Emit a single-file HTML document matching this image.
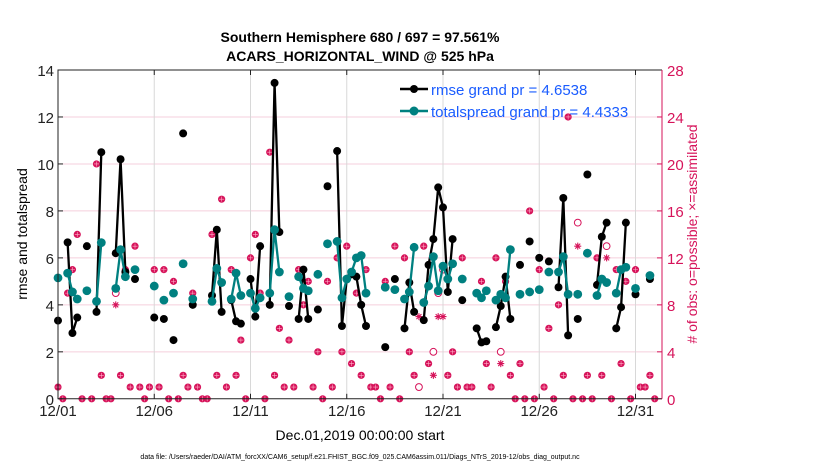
<!DOCTYPE html>
<html><head><meta charset="utf-8"><style>
body{margin:0;background:#fff;}
svg{display:block;font-family:"Liberation Sans",sans-serif;}
</style></head><body>
<svg id="chart" width="830" height="470" xmlns="http://www.w3.org/2000/svg">
<text x="360" y="42" text-anchor="middle" font-size="14" font-weight="bold">Southern Hemisphere 680 / 697 = 97.561%</text>
<text x="360" y="61" text-anchor="middle" font-size="14" font-weight="bold">ACARS_HORIZONTAL_WIND @ 525 hPa</text>
<g id="grid"></g>
<g id="obs"></g>
<g id="series"></g>
<g id="axes"></g>
<text transform="translate(27,234) rotate(-90)" text-anchor="middle" font-size="14">rmse and totalspread</text>
<text transform="translate(697,234) rotate(-90)" text-anchor="middle" font-size="14" fill="#d6135a"># of obs: o=possible; ×=assimilated</text>
<text x="360" y="440" text-anchor="middle" font-size="14">Dec.01,2019 00:00:00 start</text>
<text x="360" y="459" text-anchor="middle" font-size="7">data file: /Users/raeder/DAI/ATM_forcXX/CAM6_setup/f.e21.FHIST_BGC.f09_025.CAM6assim.011/Diags_NTrS_2019-12/obs_diag_output.nc</text>
<g>
<line x1="400" y1="89" x2="428" y2="89" stroke="#000" stroke-width="2.5"/>
<circle cx="414" cy="89" r="4" fill="#000"/>
<text x="431" y="95" font-size="15" fill="#1a5cff">rmse grand pr = 4.6538</text>
<line x1="400" y1="111" x2="428" y2="111" stroke="#008080" stroke-width="2.5"/>
<circle cx="414" cy="111" r="4.5" fill="#008080"/>
<text x="431" y="117" font-size="15" fill="#1a5cff">totalspread grand pr = 4.4333</text>
</g>
</svg>
<script>
const times=[0,0.5,0.75,1,1.5,2,2.25,3,3.25,3.5,4,5,5.5,6,6.5,7,8,8.25,8.5,9,9.25,9.5,10,10.25,10.5,11,11.25,11.5,12,12.5,12.75,13,13.5,14,14.5,14.75,15,15.25,15.5,15.75,16,17,17.5,18,18.25,18.5,19,19.25,19.5,19.75,20,20.25,20.5,21,21.75,22,22.25,22.75,23,23.25,23.5,24,24.5,25,25.5,26,26.25,26.5,27,27.5,28,28.25,28.5,29,29.25,29.5,30,30.75];
const rmse=[3.33,6.66,2.8,3.46,6.5,3.7,10.5,6.2,10.2,5.4,5.1,3.46,3.4,2.5,11.3,4.0,4.4,7.2,3.7,4.2,3.3,3.2,5.1,3.5,6.5,4.0,13.45,7.1,3.95,3.4,5.5,3.4,3.8,9.05,10.55,3.1,5.1,5.3,5.2,4.0,3.1,2.2,5.1,3.0,4.95,3.7,3.35,5.7,6.8,9.0,8.15,4.55,6.8,4.2,3.0,2.4,2.45,3.05,3.95,5.2,3.4,5.7,6.7,6.0,5.85,4.75,8.55,2.7,3.4,9.55,4.85,6.9,7.5,3.0,3.9,7.5,4.45,5.1];
const spread=[5.15,5.35,4.55,4.25,4.6,4.15,6.65,4.7,6.35,5.2,5.5,4.8,4.2,4.5,5.75,4.25,4.15,5.55,4.95,4.25,5.35,4.4,4.5,3.85,4.3,4.5,7.2,5.4,4.35,5.2,4.7,4.6,5.3,6.6,6.7,4.3,5.1,5.4,6.0,6.1,4.5,4.75,4.65,4.25,4.55,6.45,4.1,4.8,6.05,4.6,5.65,5.1,5.75,5.1,4.5,4.3,4.6,4.2,4.45,4.3,6.35,4.45,4.55,4.65,5.4,5.4,6.05,4.45,4.45,6.2,4.4,5.1,4.95,4.5,5.5,5.6,4.7,5.25];
const obsPossible=[1,0,9,11,14,0,13,0,20,2,0,0,9,2,11,1,13,1,0,1,11,1,11,0,10,0,2,1,9,1,0,0,14,2,17,1,11,2,5,0,12,14,9,0,21,2,6,1,5,1,11,8,10,1,4,0,10,1,12,4,13,3,9,2,11,1,1,0,10,1,13,0,12,4,2,1,13,3,4,9,11,2,4,1,12,1,1,9,10,3,1,12,4,10,2,0,3,0,16,0,11,1,6,0,8,2,24,0,15,0,2,0,12,2,13,0,11,3,10,0,11,1,1,2,0];
const obsAssim=[1,0,9,11,14,0,13,0,20,2,0,0,8,2,11,1,13,1,0,1,11,1,11,0,10,0,2,1,9,1,0,0,14,2,17,1,11,2,5,0,12,14,9,0,21,2,6,1,5,1,11,8,10,1,4,0,10,1,12,4,13,3,9,2,11,1,1,0,10,1,13,0,12,4,2,7,13,3,2,7,7,2,4,1,12,1,1,9,10,3,1,12,3,10,2,0,3,0,16,0,11,1,6,0,8,2,24,0,13,0,2,0,12,2,12,0,11,3,10,0,11,1,1,2,0];
const leftTicks=[0,2,4,6,8,10,12,14];
const rightTicks=[0,4,8,12,16,20,24,28];
const dateTicks=[0,5,10,15,20,25,30];
const dateLabels=["12/01","12/06","12/11","12/16","12/21","12/26","12/31"];

const NS="http://www.w3.org/2000/svg";
const L=58,R=662,T=70,B=398.8;
const xs=d=>L+d*19.25;
const yL=v=>B-v*(B-T)/14;
const yR=n=>B-n*(B-T)/28;
const RED="#d6135a",TEAL="#008080";
function mk(tag,attrs,parent){const e=document.createElementNS(NS,tag);for(const k in attrs)e.setAttribute(k,attrs[k]);parent.appendChild(e);return e;}
const grid=document.getElementById('grid'),axes=document.getElementById('axes'),obsG=document.getElementById('obs'),ser=document.getElementById('series');

leftTicks.forEach(v=>{
 if(v>0&&v<14){const g=mk('line',{x1:L,x2:R,y1:yL(v),y2:yL(v),stroke:'#f5cfdc','stroke-width':1},grid);
 
 }
 mk('line',{x1:L,x2:L+5,y1:yL(v),y2:yL(v),stroke:'#222'},axes);
 const t=mk('text',{x:L-4,y:yL(v)+6,'text-anchor':'end','font-size':15,fill:'#222'},axes);t.textContent=v;
 
 
});
rightTicks.forEach(v=>{
 mk('line',{x1:R-5,x2:R,y1:yR(v),y2:yR(v),stroke:RED},axes);
 const t=mk('text',{x:R+5,y:yR(v)+6,'font-size':15,fill:RED},axes);t.textContent=v;
 
 
});
dateTicks.forEach((d,i)=>{
 const g=mk('line',{x1:xs(d),x2:xs(d),y1:T,y2:B,stroke:'#d8d8d8'},grid);
 
 
 mk('line',{x1:xs(d),x2:xs(d),y1:B,y2:B-5,stroke:'#222'},axes);
 mk('line',{x1:xs(d),x2:xs(d),y1:T,y2:T+5,stroke:'#222'},axes);
 const t=mk('text',{x:xs(d),y:416,'text-anchor':'middle','font-size':15,fill:'#222'},axes);t.textContent=dateLabels[i];
 
 
});
mk('path',{d:`M${R},${T} L${L},${T} L${L},${B} L${R},${B}`,fill:'none',stroke:'#222','stroke-width':1},axes);
mk('line',{x1:R,x2:R,y1:T,y2:B,stroke:RED,'stroke-width':1},axes);

// obs counts
obsPossible.forEach((n,k)=>{
 const x=xs(k/4),a=obsAssim[k];
 if(a===n){
  const c=mk('circle',{cx:x,cy:yR(n),r:3.6,fill:RED},obsG);
  
  
  mk('path',{d:`M${x-2.5},${yR(n)} h5 M${x},${yR(n)-2.5} v5`,stroke:'#ffb0c8','stroke-width':0.6},obsG);
 }else{
  const c=mk('circle',{cx:x,cy:yR(n),r:3.4,fill:'#fff',stroke:RED,'stroke-width':1},obsG);
  
  
  const y=yR(a);
  const s=mk('path',{d:`M${x-3.5},${y} h7 M${x},${y-3.5} v7 M${x-2.5},${y-2.5} l5,5 M${x+2.5},${y-2.5} l-5,5`,stroke:RED,'stroke-width':1.1},obsG);
  
  
 }
});

function drawSeries(vals,color,r,name,w){
 let seg=[];
 const flush=()=>{if(seg.length>1){const p=mk('polyline',{points:seg.join(' '),fill:'none',stroke:color,'stroke-width':w},ser);
  
  }seg=[];};
 times.forEach((t,i)=>{
  if(i>0&&Math.abs(t-times[i-1]-0.25)>0.01)flush();
  seg.push(xs(t)+','+yL(vals[i]));
 });
 flush();
 times.forEach((t,i)=>{
  const c=mk('circle',{cx:xs(t),cy:yL(vals[i]),r:r,fill:color},ser);
  
  
 });
}
drawSeries(rmse,'#000',4,'rmse',2.3);
drawSeries(spread,TEAL,4.4,'totalspread',2.3);
</script>
</body></html>
